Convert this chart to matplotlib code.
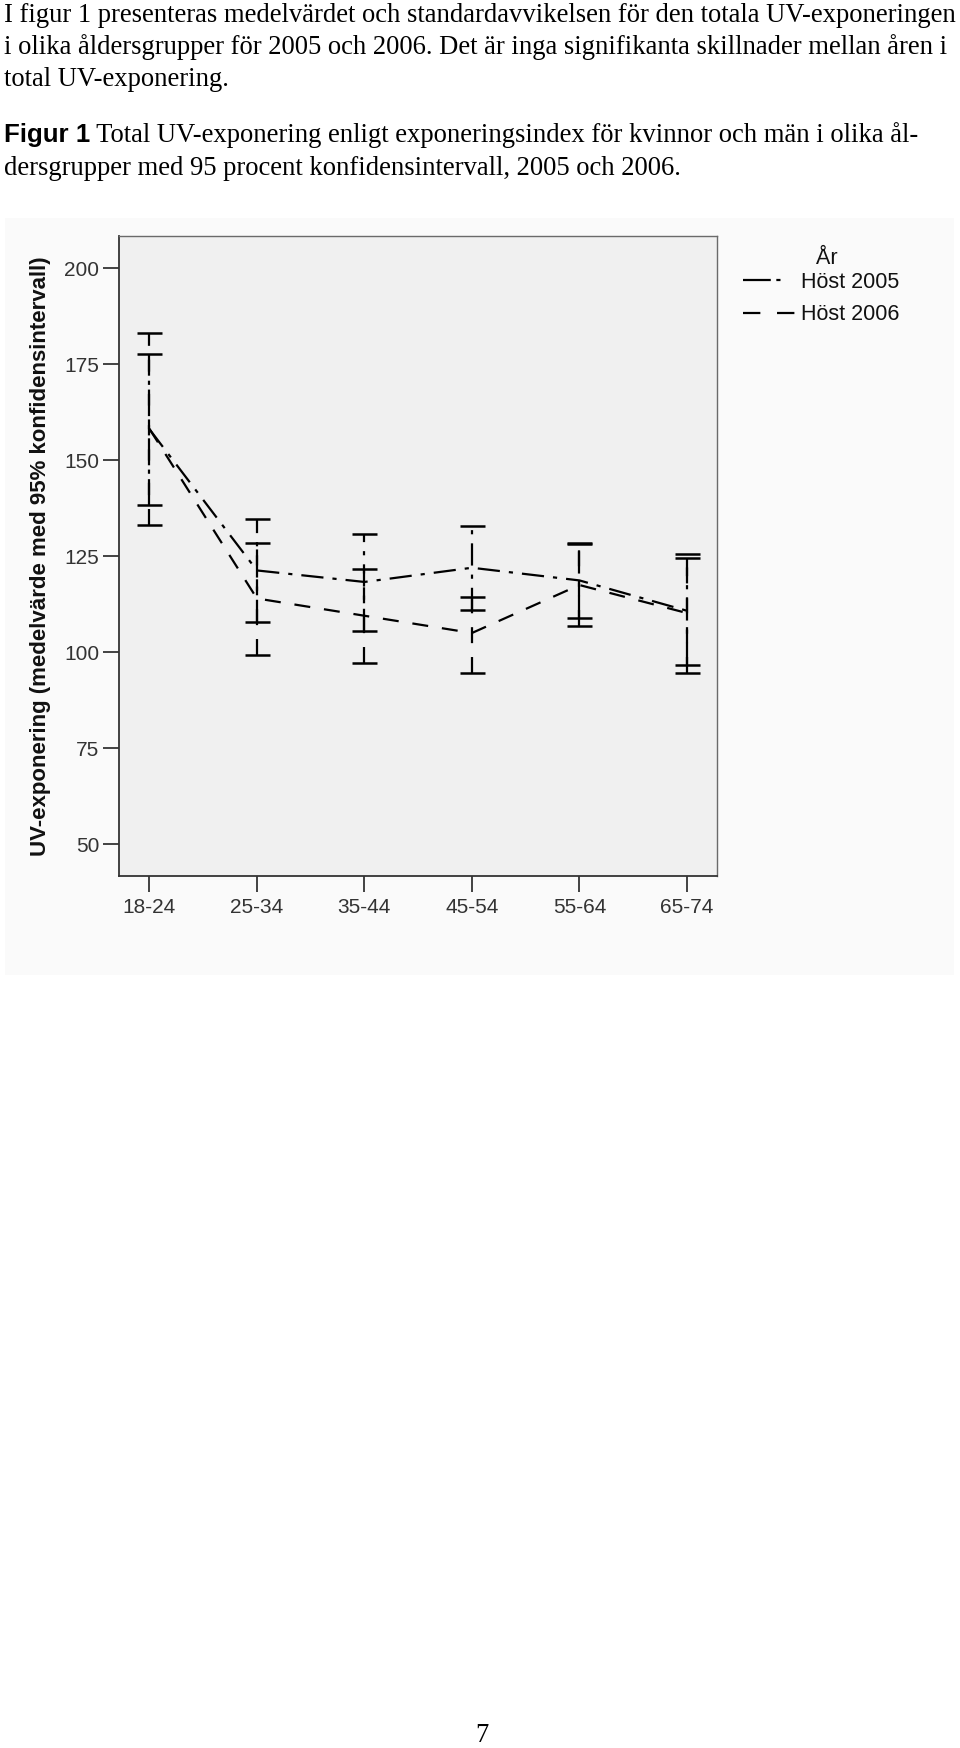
import matplotlib
matplotlib.use('Agg')
import matplotlib.pyplot as plt
from matplotlib.patches import Rectangle
from matplotlib.lines import Line2D

# ---------------- data ----------------
age_groups = ['18-24', '25-34', '35-44', '45-54', '55-64', '65-74']
mean_2005 = [158.1, 121.3, 118.3, 122.0, 118.7, 110.8]
lo_2005 = [138.4, 107.8, 105.5, 111.0, 108.9, 96.7]
hi_2005 = [177.8, 134.7, 130.8, 132.9, 128.5, 124.6]
mean_2006 = [158.2, 114.0, 109.5, 105.0, 117.5, 110.2]
lo_2006 = [133.2, 99.2, 97.3, 94.7, 106.7, 94.7]
hi_2006 = [183.1, 128.5, 121.6, 114.5, 128.2, 125.5]
y_ticks = [50, 75, 100, 125, 150, 175, 200]
series_labels = ['Höst 2005', 'Höst 2006']
legend_title = 'År'
y_label = 'UV-exponering (medelvärde med 95% konfidensintervall)'
body_lines = [
    'I figur 1 presenteras medelvärdet och standardavvikelsen för den totala UV-exponeringen',
    'i olika åldersgrupper för 2005 och 2006. Det är inga signifikanta skillnader mellan åren i',
    'total UV-exponering.',
]
caption_bold = 'Figur 1'
caption_rest = ' Total UV-exponering enligt exponeringsindex för kvinnor och män i olika ål-'
caption_line2 = 'dersgrupper med 95 procent konfidensintervall, 2005 och 2006.'
page_number = '7'

# ---------------- layout ----------------
W, H = 960, 1748
plt.rcParams['lines.scale_dashes'] = False
fig = plt.figure(figsize=(W / 100, H / 100), dpi=100)
fig.patch.set_facecolor('white')

def fx(x):
    return x / W

def fy(y):
    return 1 - y / H

# chart background box
bg = Rectangle((fx(5), fy(975)), fx(954) - fx(5), fy(218) - fy(975),
               transform=fig.transFigure, facecolor='#FAFAFA',
               edgecolor='none', zorder=-10)
fig.patches.append(bg)

ax_l, ax_r, ax_t, ax_b = 119.3, 717, 235.7, 876
ax = fig.add_axes([fx(ax_l), fy(ax_b), (ax_r - ax_l) / W, (ax_b - ax_t) / H])
ax.set_zorder(1)
ax.set_facecolor('#F0F0F0')

x = list(range(len(age_groups)))
dash_2005 = (0, (16, 6.5, 3, 6.5))
dash_2006 = (0, (11.5, 10))
lw = 1.6

for mean, lo, hi, ls in [(mean_2005, lo_2005, hi_2005, dash_2005),
                         (mean_2006, lo_2006, hi_2006, dash_2006)]:
    yerr = [[m - l for m, l in zip(mean, lo)], [h - m for m, h in zip(mean, hi)]]
    eb = ax.errorbar(x, mean, yerr=yerr, fmt='none', ecolor='black',
                     elinewidth=lw, capsize=9, capthick=1.8, zorder=3)
    eb[2][0].set_linestyle(ls)
    ax.plot(x, mean, color='black', linewidth=lw, linestyle=ls, zorder=4)

ax.set_xlim(-0.28, 5.28)
ax.set_ylim(41.7, 208.5)
ax.set_yticks(y_ticks)
ax.set_yticklabels([str(v) for v in y_ticks])
ax.set_xticks(x)
ax.set_xticklabels(age_groups)
ax.tick_params(axis='both', direction='out', length=11.5, width=1.2,
               colors='#222222', labelsize=15, labelcolor='#333333')
ax.tick_params(axis='y', pad=3)
ax.tick_params(axis='x', pad=4)
for lab in ax.get_xticklabels() + ax.get_yticklabels():
    lab.set_family('Liberation Sans')
for side in ['left', 'bottom']:
    ax.spines[side].set_color('#333333')
    ax.spines[side].set_linewidth(1.3)
for side in ['top', 'right']:
    ax.spines[side].set_color('#6a6a6a')
    ax.spines[side].set_linewidth(1.0)

ax.set_ylabel(y_label, family='Liberation Sans', fontweight='bold', fontsize=16,
              color='#111111')
ax.yaxis.label.set_rotation_mode('default')
ax.yaxis.label.set_horizontalalignment('center')
ax.yaxis.label.set_verticalalignment('center')
ax.yaxis.set_label_coords((41 - ax_l) / (ax_r - ax_l), 0.5)

handles = [Line2D([], [], color='black', linewidth=lw, linestyle=(0, (20, 4, 3, 30))),
           Line2D([], [], color='black', linewidth=lw, linestyle=(0, (12.5, 12)))]
leg = fig.legend(handles, series_labels, loc='upper left',
                 bbox_to_anchor=(fx(743), fy(272)), frameon=False, borderpad=0,
                 borderaxespad=0, handlelength=2.45, handletextpad=0.25,
                 labelspacing=0.52, prop={'family': 'Liberation Sans', 'size': 15.5})
leg.set_zorder(2)
for t in leg.get_texts():
    t.set_color('#111111')
fig.text(fx(827), fy(258), legend_title, family='Liberation Sans', fontsize=15.5,
         ha='center', va='center', color='#111111')

# ---------------- page text ----------------
fig.canvas.draw()
renderer = fig.canvas.get_renderer()

probe = fig.text(0, 0, body_lines[0], family='Liberation Serif', fontsize=20)
w0 = probe.get_window_extent(renderer).width
probe.remove()
fs = 20 * 952 / w0

probe = fig.text(0, 0, caption_bold, family='Liberation Sans', fontweight='bold', fontsize=20)
wb = probe.get_window_extent(renderer).width
probe.remove()
fsb = 20 * 86 / wb

baselines = [22, 54, 86]
for line, b in zip(body_lines, baselines):
    fig.text(fx(4), fy(b), line, family='Liberation Serif', fontsize=fs,
             va='baseline', ha='left', color='black')

tb = fig.text(fx(4), fy(142), caption_bold, family='Liberation Sans', fontweight='bold',
              fontsize=fsb, va='baseline', ha='left', color='black')
fig.canvas.draw()
xb = tb.get_window_extent(renderer).x1
fig.text(xb / W, fy(142), caption_rest, family='Liberation Serif', fontsize=fs,
         va='baseline', ha='left', color='black')
fig.text(fx(4), fy(175), caption_line2, family='Liberation Serif', fontsize=fs,
         va='baseline', ha='left', color='black')

fig.text(fx(482), fy(1742), page_number, family='Liberation Serif', fontsize=fs,
         va='baseline', ha='center', color='black')

fig.savefig('out.png', dpi=100, facecolor='white')
